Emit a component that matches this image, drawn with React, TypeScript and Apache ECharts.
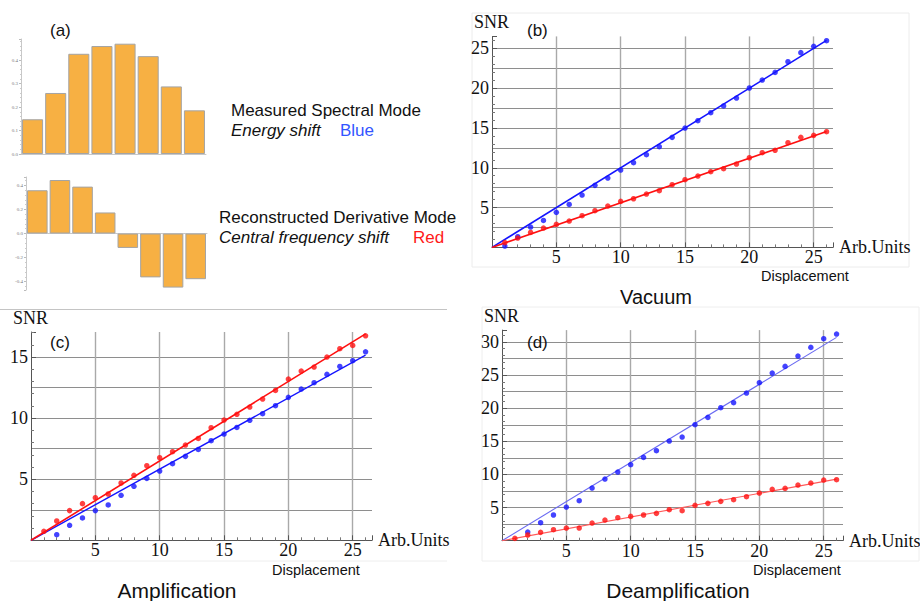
import React, { useEffect, useRef } from "react";
import * as echarts from "echarts";

// ---- Panel (a) data ----
const spectralBins = ["1", "2", "3", "4", "5", "6", "7", "8"];
const measuredSpectral = [0.148, 0.26, 0.427, 0.46, 0.47, 0.417, 0.288, 0.186];
const derivativeMode = [0.36, 0.445, 0.39, 0.175, -0.12, -0.365, -0.45, -0.38];

// ---- Displacement (Arb. Units) ----
const displacement = [1, 2, 3, 4, 5, 6, 7, 8, 9, 10, 11, 12, 13, 14, 15, 16, 17, 18, 19, 20, 21, 22, 23, 24, 25, 26];

// ---- Panel (b) Vacuum ----
const vacuumBlue = [0.17, 1.34, 2.55, 3.39, 4.4, 5.4, 6.57, 7.79, 8.71, 9.72, 10.64, 11.64, 12.65, 13.82, 14.99, 15.91, 16.92, 17.76, 18.76, 20.02, 21.02, 21.98, 23.32, 24.46, 25.25, 25.96];
const vacuumRed = [0.6, 1.17, 1.88, 2.43, 2.89, 3.31, 3.98, 4.61, 5.19, 5.78, 6.11, 6.7, 7.12, 7.87, 8.5, 8.96, 9.51, 9.88, 10.47, 11.26, 11.89, 12.19, 13.15, 13.82, 14.07, 14.53];

// ---- Panel (c) Amplification ----
const ampBlue = [-0.19, 0.46, 1.23, 1.83, 2.43, 2.89, 3.68, 4.42, 5.07, 5.67, 6.27, 6.87, 7.44, 8.15, 8.7, 9.24, 9.82, 10.36, 11.02, 11.7, 12.38, 12.9, 13.58, 14.23, 14.7, 15.43];
const ampRed = [0.74, 1.58, 2.43, 3.0, 3.49, 3.79, 4.69, 5.32, 6.11, 6.76, 7.25, 7.8, 8.34, 9.22, 9.84, 10.31, 10.91, 11.56, 12.27, 13.2, 13.85, 14.18, 15.0, 15.68, 15.95, 16.74];

// ---- Panel (d) Deamplification ----
const deampBlue = [-0.15, 1.31, 2.72, 3.88, 5.08, 6.04, 7.95, 9.31, 10.37, 11.47, 12.58, 13.59, 15.05, 15.65, 17.51, 18.62, 20.08, 20.84, 22.29, 23.86, 25.31, 26.32, 27.88, 29.19, 30.5, 31.2];
const deampRed = [0.35, 0.86, 1.26, 1.66, 1.91, 1.91, 2.67, 3.12, 3.47, 3.67, 3.88, 4.13, 4.68, 4.53, 5.33, 5.64, 5.94, 6.19, 6.64, 7.2, 7.75, 7.9, 8.4, 8.71, 9.16, 9.21];

// ---- Linear fits (endpoints) ----
const fitX = [0, 26];
const vacuumBlueFit = [0, 26.0];
const vacuumRedFit = [0, 14.55];
const ampBlueFit = [0, 15.15];
const ampRedFit = [0, 16.9];
const deampBlueFit = [0, 30.7];
const deampRedFit = [0, 9.3];

// ---- Axis extents ----
const xMax = 26.5;
const vacuumYMax = 26.5;
const ampYMax = 17.05;
const deampYMax = 31.8;

const SERIF = "'Liberation Serif', 'DejaVu Serif', serif";
const SANS = "'Liberation Sans', Arial, sans-serif";
const BLUE = "#1414ff";
const RED = "#ff1010";
const BAR = "#f7b043";

function pairs(xs: number[], ys: number[]) {
  return xs.map((x, i) => [x, ys[i]]);
}

export default function App() {
  const ref = useRef<HTMLDivElement>(null);

  useEffect(() => {
    if (!ref.current) return;
    const chart = echarts.init(ref.current, undefined, { renderer: "svg" });

    const grids = [
      { left: 21, top: 39, width: 185, height: 115 },
      { left: 26, top: 177, width: 181, height: 113 },
      { left: 492, top: 36.4, width: 341, height: 211 },
      { left: 31, top: 332, width: 341, height: 208.3 },
      { left: 502, top: 330.1, width: 341, height: 210.6 },
    ];

    const barX = (g: number) => ({
      type: "category",
      gridIndex: g,
      data: spectralBins,
      axisLine: { onZero: true, lineStyle: { color: "#c8c8c8", width: 1 } },
      axisTick: { show: false },
      axisLabel: { show: false },
      splitLine: { show: false },
    });
    const barY = (g: number, min: number, max: number, step: number) => ({
      type: "value",
      gridIndex: g,
      min,
      max,
      splitNumber: 5,
      axisLine: { show: true, onZero: false, lineStyle: { color: "#c8c8c8", width: 1 } },
      axisTick: { show: true, length: 2, lineStyle: { color: "#bbb" } },
      minorTick: { show: true, splitNumber: 5, length: 1, lineStyle: { color: "#ccc" } },
      axisLabel: {
        fontSize: 5,
        fontFamily: SERIF,
        color: "#777",
        margin: 3,
        formatter: (v: number) => {
          const k = v / step;
          return Math.abs(k - Math.round(k)) < 1e-6 ? v.toFixed(1) : "";
        },
      },
      splitLine: { show: false },
    });

    const plotX = (g: number) => ({
      type: "value",
      gridIndex: g,
      min: 0,
      max: xMax,
      interval: 5,
      axisLine: { show: true, onZero: false, lineStyle: { color: "#555", width: 1 } },
      axisTick: { show: true, inside: true, length: 5, lineStyle: { color: "#555" } },
      minorTick: { show: true, splitNumber: 5, length: 3, lineStyle: { color: "#777" } },
      axisLabel: {
        fontFamily: SERIF,
        fontSize: 18,
        color: "#111",
        margin: 1,
        formatter: (v: number) => (v === 0 || v % 5 !== 0 ? "" : String(v)),
      },
      splitLine: { show: true, showMinLine: false, showMaxLine: false, lineStyle: { color: "#a9a9a9", width: 1.4 } },
    });
    const plotYLabel = (g: number, max: number) => ({
      type: "value",
      gridIndex: g,
      min: 0,
      max,
      interval: 5,
      position: "left",
      axisLine: { show: true, onZero: false, lineStyle: { color: "#555", width: 1 } },
      axisTick: { show: true, inside: true, length: 5, lineStyle: { color: "#555" } },
      minorTick: { show: true, splitNumber: 5, length: 3, lineStyle: { color: "#777" } },
      axisLabel: {
        fontFamily: SERIF,
        fontSize: 18,
        color: "#111",
        margin: 3,
        formatter: (v: number) => (v === 0 || v % 5 !== 0 ? "" : String(v)),
      },
      splitLine: { show: false },
    });
    const plotYGrid = (g: number, max: number) => ({
      type: "value",
      gridIndex: g,
      min: 0,
      max,
      interval: 2.5,
      position: "left",
      axisLine: { show: false },
      axisTick: { show: false },
      axisLabel: { show: false },
      splitLine: { show: true, showMinLine: false, showMaxLine: false, lineStyle: { color: "#8e8e8e", width: 1 } },
    });

    const xAxis = [barX(0), barX(1), plotX(2), plotX(3), plotX(4)];
    const yAxis = [
      barY(0, 0, 0.49, 0.1),
      barY(1, -0.47, 0.47, 0.2),
      plotYLabel(2, vacuumYMax),
      plotYGrid(2, vacuumYMax),
      plotYLabel(3, ampYMax),
      plotYGrid(3, ampYMax),
      plotYLabel(4, deampYMax),
      plotYGrid(4, deampYMax),
    ];

    const barSeries = (g: number, data: number[]) => ({
      type: "bar",
      xAxisIndex: g,
      yAxisIndex: g,
      data,
      barCategoryGap: "9%",
      itemStyle: { color: BAR, borderColor: "#a4a4a4", borderWidth: 1 },
      silent: true,
    });
    const dots = (g: number, yIdx: number, ys: number[], color: string) => ({
      type: "scatter",
      xAxisIndex: g,
      yAxisIndex: yIdx,
      data: pairs(displacement, ys),
      symbolSize: 5.5,
      itemStyle: { color },
      z: 4,
    });
    const fit = (g: number, yIdx: number, ys: number[], color: string, width: number) => ({
      type: "line",
      xAxisIndex: g,
      yAxisIndex: yIdx,
      data: pairs(fitX, ys),
      showSymbol: false,
      symbol: "none",
      lineStyle: { color, width },
      z: 3,
    });

    const series = [
      barSeries(0, measuredSpectral),
      barSeries(1, derivativeMode),
      fit(2, 2, vacuumBlueFit, BLUE, 1.6),
      fit(2, 2, vacuumRedFit, RED, 1.6),
      dots(2, 2, vacuumBlue, BLUE),
      dots(2, 2, vacuumRed, RED),
      fit(3, 4, ampBlueFit, BLUE, 1.4),
      fit(3, 4, ampRedFit, RED, 1.6),
      dots(3, 4, ampBlue, BLUE),
      dots(3, 4, ampRed, RED),
      fit(4, 6, deampBlueFit, "#6a6af2", 1.1),
      fit(4, 6, deampRedFit, "#ff5a5a", 1.1),
      dots(4, 6, deampBlue, BLUE),
      dots(4, 6, deampRed, RED),
    ];

    const txt = (
      text: string,
      x: number,
      y: number,
      fontSize: number,
      fontFamily: string,
      opts: any = {}
    ) => ({
      type: "text",
      x,
      y,
      silent: true,
      z: 10,
      style: {
        text,
        fontSize,
        fontFamily,
        fill: opts.fill || "#111",
        fontStyle: opts.italic ? "italic" : "normal",
        align: opts.align || "left",
        verticalAlign: "middle",
      },
    });

    const graphic = [
      { type: "rect", shape: { x: 472, y: 13, width: 437, height: 254 }, style: { fill: "none", stroke: "#ececec", lineWidth: 1 }, silent: true, z: 0 },
      { type: "line", shape: { x1: 0, y1: 309.5, x2: 447, y2: 309.5 }, style: { stroke: "#c4c4c4", lineWidth: 1 }, silent: true, z: 0 },
      { type: "line", shape: { x1: 10, y1: 561, x2: 447, y2: 561 }, style: { stroke: "#eeeeee", lineWidth: 1 }, silent: true, z: 0 },
      { type: "rect", shape: { x: 482, y: 307, width: 437, height: 254 }, style: { fill: "none", stroke: "#eeeeee", lineWidth: 1 }, silent: true, z: 0 },

      // panel (a)
      txt("(a)", 50, 30, 17, SANS),
      txt("Measured Spectral Mode", 231, 110, 17, SANS),
      txt("Energy shift", 231, 130, 17, SANS, { italic: true }),
      txt("Blue", 340, 130, 17, SANS, { fill: "#3355ff" }),
      txt("Reconstructed Derivative Mode", 219, 217, 17, SANS),
      txt("Central frequency shift", 219, 237, 17, SANS, { italic: true }),
      txt("Red", 413, 237, 17, SANS, { fill: "#ff1a1a" }),

      // panel (b)
      txt("SNR", 474, 22, 18, SERIF),
      txt("(b)", 527, 30, 17, SANS),
      txt("Arb.Units", 839, 247, 18, SERIF),
      txt("Displacement", 761, 276, 14.5, SANS),
      txt("Vacuum", 656, 297, 20, SANS, { align: "center" }),

      // panel (c)
      txt("SNR", 13, 317.5, 18, SERIF),
      txt("(c)", 50, 342, 17, SANS),
      txt("Arb.Units", 378, 540, 18, SERIF),
      txt("Displacement", 272, 569.5, 14.5, SANS),
      txt("Amplification", 177, 590, 21, SANS, { align: "center" }),

      // panel (d)
      txt("SNR", 484, 316, 18, SERIF),
      txt("(d)", 527, 342, 17, SANS),
      txt("Arb.Units", 849, 541, 18, SERIF),
      txt("Displacement", 753, 569.5, 14.5, SANS),
      txt("Deamplification", 678, 590, 21, SANS, { align: "center" }),
    ];

    chart.setOption({
      animation: false,
      backgroundColor: "#ffffff",
      grid: grids.map((g) => ({ ...g, containLabel: false })),
      xAxis,
      yAxis,
      series,
      graphic,
    });

    return () => {
      chart.dispose();
    };
  }, []);

  return (
    <div
      ref={ref}
      style={{ position: "absolute", left: 0, top: 0, width: 920, height: 601 }}
    />
  );
}
